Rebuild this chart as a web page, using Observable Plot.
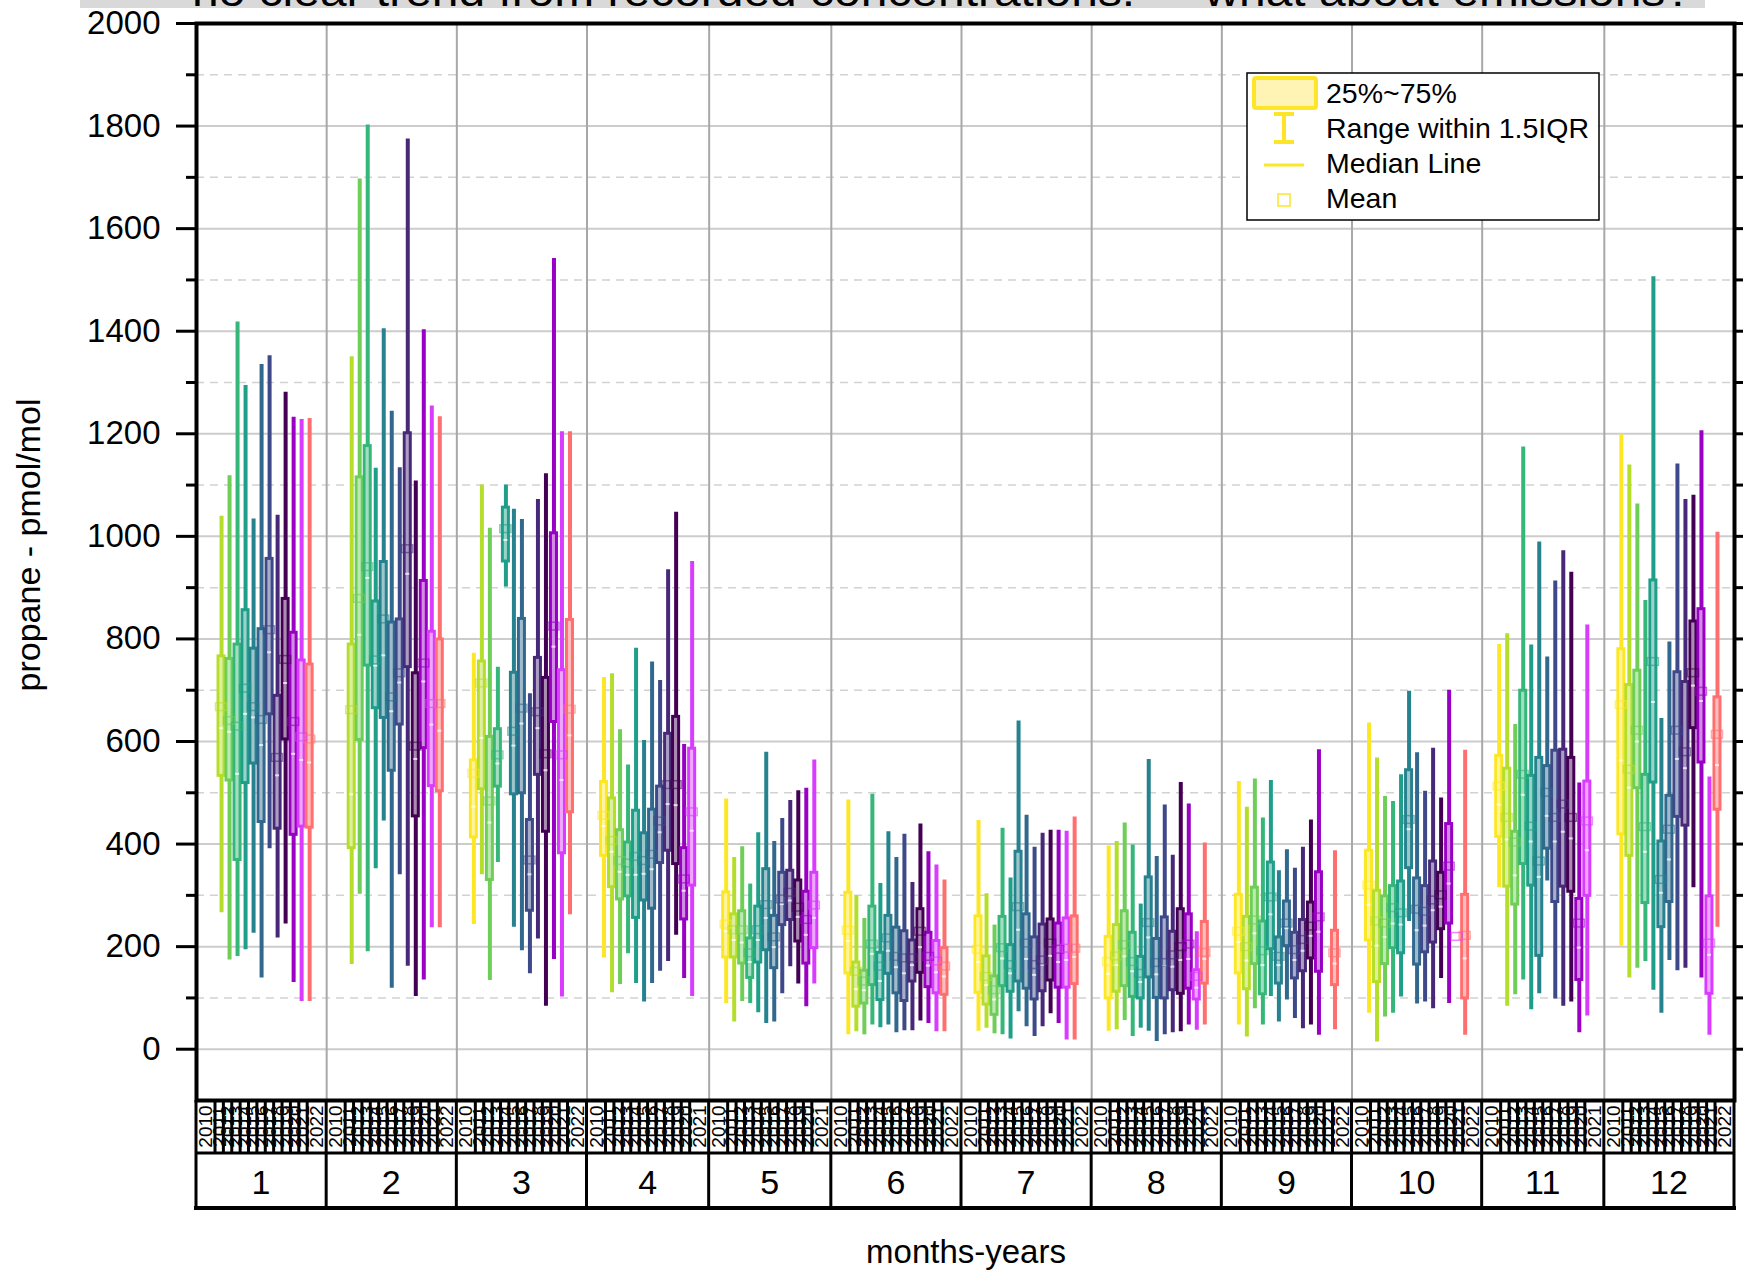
<!DOCTYPE html>
<html>
<head>
<meta charset="utf-8">
<script src="https://cdn.jsdelivr.net/npm/d3@7"></script>
<script src="https://cdn.jsdelivr.net/npm/@observablehq/plot@0.6"></script>
<style>
  html, body { margin: 0; padding: 0; background: white; }
  #chart { position: relative; width: 1745px; height: 1271px; overflow: hidden; }
</style>
</head>
<body>
<div id="chart"></div>
<script>
// ---------- data ----------
const months = [1,2,3,4,5,6,7,8,9,10,11,12];
const years = [2010,2011,2012,2013,2014,2015,2016,2017,2018,2019,2020,2021,2022];
const monthSlots = [13,13,13,12,12,13,13,13,13,13,12,13];
const yearColors = ["#fde725","#b5de2b","#6ece58","#35b779","#1f9e89","#26828e","#31688e","#3e4989","#482878","#440154","#9a00c4","#d93cff","#ff6f6f"];

const whiskerHigh = [
  [null,1039,1118,1418,1294,1034,1335,1352,1041,1281,1232,1228,1230],
  [null,1350,1697,1802,1133,1405,1244,1134,1775,1108,1403,1254,1233],
  [772,1100,1016,745,1100,1053,1033,693,1072,1122,1542,1204,1204],
  [725,732,623,554,782,602,755,719,935,1047,594,951],
  [488,374,395,322,422,579,405,450,485,504,509,564],
  [486,299,255,497,323,424,374,419,325,439,385,359,330],
  [446,303,242,431,334,640,456,394,421,427,427,425,453],
  [396,405,441,398,283,565,376,476,378,520,478,229,402],
  [522,472,527,451,524,348,389,353,394,447,584,null,387],
  [636,568,493,483,535,698,578,503,587,490,700,219,583],
  [789,810,633,1174,788,989,765,913,972,930,519,827],
  [1198,1139,1063,875,1506,645,794,1141,1072,1080,1206,531,1008]
];
const q3 = [
  [null,766,761,789,856,781,819,956,689,878,812,758,750],
  [null,789,1115,1176,873,950,832,838,1201,733,913,814,799],
  [563,756,609,624,1056,734,839,447,763,724,1006,739,837],
  [521,489,427,403,465,421,467,512,615,648,392,586],
  [306,263,269,216,278,351,260,344,348,329,307,344],
  [305,169,153,278,188,260,237,230,212,273,227,211,197],
  [259,181,142,258,203,385,263,218,243,253,245,255,259],
  [219,242,269,227,180,335,215,257,229,273,263,154,248],
  [301,258,315,249,364,218,288,227,252,286,345,null,231],
  [387,309,298,318,327,544,333,318,366,344,439,219,301],
  [572,547,424,699,533,568,552,582,584,568,293,522],
  [780,710,738,535,914,405,494,735,716,834,858,298,686]
];
const median = [
  [null,626,619,537,654,647,593,774,534,714,576,564,559],
  [null,497,808,919,748,768,659,715,927,566,717,633,621],
  [473,607,442,557,993,592,635,341,626,544,785,525,612],
  [435,385,346,340,340,342,351,423,478,476,309,426],
  [230,213,208,170,213,256,199,283,290,258,223,256],
  [211,117,115,186,133,192,160,148,164,199,163,150,142],
  [170,125,97,177,148,233,176,145,165,182,170,174,180],
  [147,164,181,152,131,218,146,162,161,174,176,120,176],
  [209,173,226,164,263,164,236,174,192,221,229,null,167],
  [282,202,219,245,243,429,232,241,271,278,323,219,177],
  [477,409,339,496,405,336,455,405,424,411,198,388],
  [563,510,600,385,677,305,370,566,548,709,679,184,554]
];
const q1 = [
  [null,533,524,369,519,557,443,653,430,604,418,434,432],
  [null,392,603,748,665,646,543,633,745,454,587,513,503],
  [413,507,330,512,951,497,499,270,535,424,638,382,462],
  [377,316,292,298,256,290,274,363,387,361,253,319],
  [179,179,167,139,169,193,158,242,252,210,167,197],
  [148,83,89,125,96,147,109,94,132,149,121,109,106],
  [110,87,67,123,112,132,118,97,113,134,120,120,127],
  [99,112,123,102,99,140,100,99,115,108,118,97,128],
  [148,117,166,107,195,128,201,138,152,177,151,null,125],
  [212,131,166,197,187,353,165,189,208,234,245,219,99],
  [414,317,282,361,319,182,391,287,317,307,135,299],
  [419,377,509,285,520,238,287,453,436,626,559,108,467]
];
const whiskerLow = [
  [null,266,174,181,194,226,139,391,217,244,130,93,93],
  [null,165,302,190,352,445,119,340,162,103,135,237,237],
  [243,340,134,364,901,238,192,147,215,84,175,102,262],
  [178,110,126,186,128,92,128,152,171,222,138,103],
  [89,53,93,89,71,50,53,108,161,127,83,127],
  [28,34,28,47,42,47,32,36,36,55,50,34,34],
  [35,41,30,28,20,73,44,25,44,69,50,18,18],
  [35,38,56,25,41,35,15,28,32,34,47,37,47],
  [47,24,79,47,103,53,96,60,40,47,27,null,38],
  [70,14,63,70,102,249,88,92,79,138,89,219,27],
  [315,84,106,135,77,108,328,98,84,92,32,65],
  [201,139,158,171,115,70,173,153,158,315,139,27,238]
];
const mean = [
  [null,667,640,629,703,667,642,817,568,759,638,608,604],
  [null,661,878,940,758,838,686,733,975,590,752,673,673],
  [537,713,483,573,1014,619,664,368,657,575,824,573,662],
  [455,406,367,362,375,367,379,444,515,515,331,462],
  [243,232,232,187,232,281,218,292,305,276,252,280],
  [231,151,132,204,161,216,180,177,177,229,180,171,161],
  [194,141,115,197,164,277,206,164,173,206,194,196,196],
  [170,181,203,170,147,246,168,168,183,199,204,141,188],
  [229,199,251,191,296,180,245,193,213,239,257,null,187],
  [319,249,245,275,265,447,272,268,290,300,356,219,221],
  [512,451,403,535,434,366,500,451,477,451,245,444],
  [671,545,621,433,755,330,428,621,579,733,697,206,613]
];
const majorTicks = [0,200,400,600,800,1000,1200,1400,1600,1800,2000];
const minorTicks = [100,300,500,700,900,1100,1300,1500,1700,1900];

// ---------- layout of the grouped x axis (in slot units) ----------
const slotGap = 8, edge = 17;
const starts = [];
let cursor = 0;
monthSlots.forEach(n => { starts.push(cursor); cursor += edge * 2 + slotGap * (n - 1); });
const total = cursor;
const bounds = starts.concat([total]);

const rows = [];
months.forEach((m, mi) => {
  for (let i = 0; i < monthSlots[mi]; i++) {
    if (whiskerHigh[mi][i] == null) continue;
    rows.push({
      month: m, year: years[i], color: yearColors[i],
      pos: starts[mi] + edge + slotGap * i,
      hi: whiskerHigh[mi][i], q3: q3[mi][i], med: median[mi][i],
      q1: q1[mi][i], lo: whiskerLow[mi][i], mean: mean[mi][i]
    });
  }
});

const FONT = "'Liberation Sans', Arial, Helvetica, sans-serif";

const plot = Plot.plot({
  width: 1745, height: 1271,
  marginLeft: 196, marginRight: 11, marginTop: 23, marginBottom: 171,
  style: {background: "white", fontFamily: FONT, overflow: "visible"},
  x: {domain: [0, total], axis: null},
  y: {domain: [-100, 2000], axis: null},
  color: {type: "identity"},
  marks: [
    Plot.ruleY(minorTicks, {stroke: "#d2d2d2", strokeWidth: 1.5, strokeDasharray: "8,6"}),
    Plot.ruleY(majorTicks, {stroke: "#cccccc", strokeWidth: 2}),
    Plot.ruleX(bounds.slice(1, -1), {stroke: "#a8a8a8", strokeWidth: 2}),
    Plot.ruleX(rows, {x: "pos", y1: "lo", y2: "hi", stroke: "color", strokeWidth: 4}),
    Plot.rect(rows, {x1: d => d.pos - 3, x2: d => d.pos + 3, y1: "q1", y2: "q3",
      fill: "white", fillOpacity: 0.55, stroke: "color", strokeWidth: 3}),
    Plot.ruleY(rows, {y: "med", x1: d => d.pos - 2, x2: d => d.pos + 2,
      stroke: "white", strokeOpacity: 0.75, strokeWidth: 2}),
    Plot.rect(rows, {x1: d => d.pos - 5.5, x2: d => d.pos + 5.5,
      y1: d => d.mean - 7.5, y2: d => d.mean + 7.5,
      fill: "none", stroke: "color", strokeOpacity: 0.6, strokeWidth: 1.5}),
    Plot.frame({stroke: "black", strokeWidth: 4}),
    Plot.axisY(majorTicks, {tickSize: 20, tickPadding: 16, strokeWidth: 3, fontSize: 33, label: null, fill: "black", tickFormat: d => String(d)}),
    Plot.axisY(minorTicks, {tickSize: 10, tickFormat: () => "", strokeWidth: 3, label: null}),
    Plot.axisY(majorTicks.concat(minorTicks), {anchor: "right", tickSize: 8, tickFormat: () => "", strokeWidth: 3, label: null})
  ]
});

document.getElementById("chart").appendChild(plot);

// ---------- extra decorations drawn with d3 on the same svg ----------
const svg = d3.select(plot);
const xs = plot.scale("x");
const X = v => xs.apply(v);
const g = svg.append("g").attr("font-family", FONT).attr("text-anchor", "start");

// two-tier category axis under the plot
const rowTop = 1100, rowMid = 1153, rowBot = 1208;
const yearLayer = g.append("g");
months.forEach((m, mi) => {
  const n = monthSlots[mi];
  const x0 = X(starts[mi]), x1 = X(bounds[mi + 1]);
  const endW = 19;
  const inner = (x1 - x0 - 2 * endW) / (n - 2);
  const cellB = [x0, x0 + endW];
  for (let k = 1; k <= n - 2; k++) cellB.push(x0 + endW + inner * k);
  cellB.push(x1);
  for (let i = 0; i < n; i++) {
    const cx = (cellB[i] + cellB[i + 1]) / 2;
    yearLayer.append("text")
      .attr("transform", `translate(${cx},${(rowTop + rowMid) / 2}) rotate(-90)`)
      .attr("text-anchor", "middle").attr("dominant-baseline", "central")
      .attr("font-size", 19).attr("fill", "black")
      .text(years[i]);
  }
  for (let k = 1; k < cellB.length - 1; k++) {
    yearLayer.append("line").attr("x1", cellB[k]).attr("x2", cellB[k])
      .attr("y1", rowTop).attr("y2", rowMid).attr("stroke", "black").attr("stroke-width", 3);
  }
  g.append("text").attr("x", (x0 + x1) / 2).attr("y", 1194)
    .attr("text-anchor", "middle").attr("font-size", 34).attr("fill", "black").text(m);
});
bounds.forEach(b => {
  g.append("line").attr("x1", X(b)).attr("x2", X(b)).attr("y1", rowTop).attr("y2", rowBot)
    .attr("stroke", "black").attr("stroke-width", 3);
});
g.append("line").attr("x1", X(0)).attr("x2", X(total)).attr("y1", rowMid).attr("y2", rowMid)
  .attr("stroke", "black").attr("stroke-width", 3);
g.append("line").attr("x1", X(0) - 2).attr("x2", X(total) + 2).attr("y1", rowBot).attr("y2", rowBot)
  .attr("stroke", "black").attr("stroke-width", 4);

// axis titles
g.append("text").attr("x", 966).attr("y", 1263).attr("text-anchor", "middle")
  .attr("font-size", 33).attr("fill", "black").text("months-years");
g.append("text").attr("transform", "translate(28,545) rotate(-90)")
  .attr("text-anchor", "middle").attr("dominant-baseline", "central")
  .attr("font-size", 34).attr("fill", "black").text("propane - pmol/mol");

// legend
const lg = g.append("g");
const yel = "#ffe52a";
lg.append("rect").attr("x", 1247).attr("y", 73).attr("width", 352).attr("height", 147)
  .attr("fill", "white").attr("stroke", "black").attr("stroke-width", 1.5);
lg.append("rect").attr("x", 1254).attr("y", 78).attr("width", 62).attr("height", 30).attr("rx", 2)
  .attr("fill", "#fff4b4").attr("stroke", yel).attr("stroke-width", 4);
lg.append("line").attr("x1", 1284).attr("x2", 1284).attr("y1", 114).attr("y2", 142).attr("stroke", yel).attr("stroke-width", 4);
lg.append("line").attr("x1", 1274).attr("x2", 1294).attr("y1", 114).attr("y2", 114).attr("stroke", yel).attr("stroke-width", 4);
lg.append("line").attr("x1", 1274).attr("x2", 1294).attr("y1", 142).attr("y2", 142).attr("stroke", yel).attr("stroke-width", 4);
lg.append("line").attr("x1", 1264).attr("x2", 1304).attr("y1", 165).attr("y2", 165).attr("stroke", yel).attr("stroke-width", 3);
lg.append("rect").attr("x", 1278).attr("y", 194).attr("width", 12).attr("height", 12)
  .attr("fill", "none").attr("stroke", yel).attr("stroke-width", 1.5);
[["25%~75%", 103], ["Range within 1.5IQR", 138], ["Median Line", 173], ["Mean", 208]].forEach(([t, y]) => {
  lg.append("text").attr("x", 1326).attr("y", y).attr("text-anchor", "start")
    .attr("font-size", 28.5).attr("fill", "black").text(t);
});

// cut-off banner at the very top
g.append("rect").attr("x", 80).attr("y", 0).attr("width", 1625).attr("height", 8).attr("fill", "#d9d9d9");
g.append("text").attr("x", 192).attr("y", 6).attr("text-anchor", "start")
  .attr("font-size", 42).attr("fill", "black")
  .attr("textLength", 1500).attr("lengthAdjust", "spacingAndGlyphs")
  .text("no clear trend from recorded concentrations.  -  what about emissions?");
</script>
</body>
</html>
